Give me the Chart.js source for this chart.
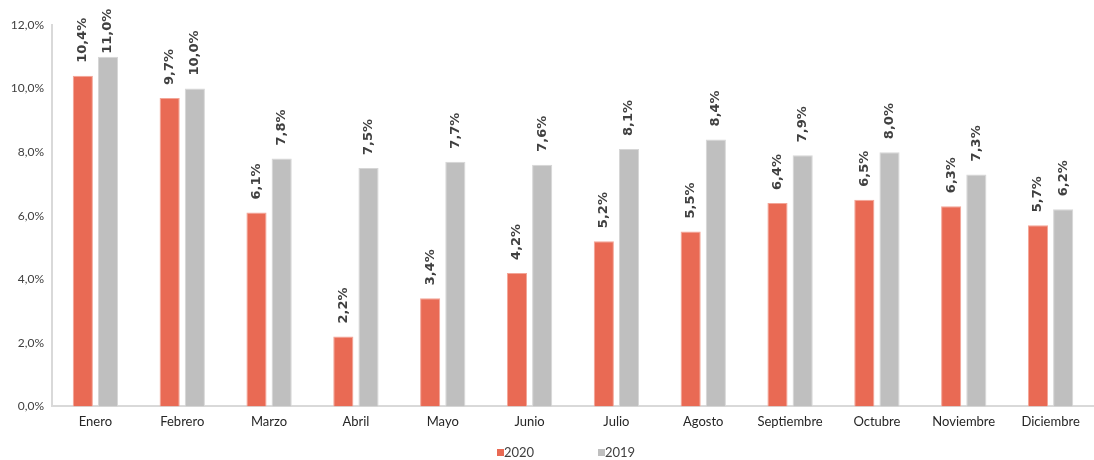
<!DOCTYPE html>
<html>
<head>
<meta charset="utf-8">
<script src="https://cdn.jsdelivr.net/npm/chart.js@4"></script>
<style>
  body { margin: 0; background: #fff; }
  #wrap { width: 1094px; height: 460px; }
</style>
</head>
<body>
<div id="wrap"><canvas id="chart"></canvas></div>
<script>
const months = ['Enero', 'Febrero', 'Marzo', 'Abril', 'Mayo', 'Junio', 'Julio', 'Agosto', 'Septiembre', 'Octubre', 'Noviembre', 'Diciembre'];
const values2020 = [10.4, 9.7, 6.1, 2.2, 3.4, 4.2, 5.2, 5.5, 6.4, 6.5, 6.3, 5.7];
const values2019 = [11.0, 10.0, 7.8, 7.5, 7.7, 7.6, 8.1, 8.4, 7.9, 8.0, 7.3, 6.2];

const fmt = v => v.toFixed(1).replace('.', ',') + '%';

// etiquetas giradas encima de cada barra (sin salirse por arriba)
const barLabels = {
    id: 'barLabels',
    afterDatasetsDraw(chart) {
        const ctx = chart.ctx;
        ctx.save();
        ctx.font = 'bold 13px "DejaVu Sans"';
        ctx.fillStyle = '#404040';
        ctx.textAlign = 'left';
        ctx.textBaseline = 'middle';
        chart.data.datasets.forEach((ds, i) => {
            chart.getDatasetMeta(i).data.forEach((bar, j) => {
                const txt = fmt(ds.data[j]);
                const w = ctx.measureText(txt).width;
                let start = Math.max(bar.y - 13, 12 + w);
                start = Math.min(start, bar.y - 3);
                ctx.save();
                ctx.translate(bar.x, start);
                ctx.rotate(-Math.PI / 2);
                ctx.fillText(txt, 0, 0);
                ctx.restore();
            });
        });
        ctx.restore();
    }
};

// leyenda abajo, cuadrito pegado al texto
const bottomLegend = {
    id: 'bottomLegend',
    afterDraw(chart) {
        const ctx = chart.ctx;
        const y = 453;
        const xs = [497, 598];
        ctx.save();
        ctx.font = '13px Lato';
        ctx.textBaseline = 'middle';
        ctx.textAlign = 'left';
        chart.data.datasets.forEach((ds, i) => {
            ctx.fillStyle = ds.backgroundColor;
            ctx.fillRect(xs[i], y - 4, 7, 7);
            ctx.fillStyle = '#404040';
            ctx.fillText(ds.label, xs[i] + 7, y);
        });
        ctx.restore();
    }
};

const ctx = document.getElementById('chart').getContext('2d');
new Chart(ctx, {
    type: 'bar',
    data: {
        labels: months,
        datasets: [{
            label: '2020',
            data: values2020,
            backgroundColor: '#E96A54',
            borderColor: '#F3A597',
            borderWidth: 1,
            categoryPercentage: 0.58,
            barPercentage: 0.8
        }, {
            label: '2019',
            data: values2019,
            backgroundColor: '#BFBFBF',
            borderColor: '#D6D6D6',
            borderWidth: 1,
            categoryPercentage: 0.58,
            barPercentage: 0.8
        }]
    },
    options: {
        responsive: true,
        maintainAspectRatio: false,
        animation: false,
        layout: { padding: { top: 25, right: 0, bottom: 22 } },
        plugins: {
            legend: { display: false },
            tooltip: { enabled: false }
        },
        scales: {
            x: {
                grid: { display: false, drawTicks: false },
                border: { color: '#D9D9D9', width: 2 },
                ticks: { color: '#262626', font: { family: 'Lato', size: 13 }, padding: 8 }
            },
            y: {
                min: 0,
                max: 12,
                afterFit: s => { s.width = 52; },
                grid: { display: false, drawOnChartArea: false, drawTicks: true, tickLength: 5, color: '#D9D9D9' },
                border: { color: '#D9D9D9', width: 2 },
                ticks: {
                    stepSize: 2,
                    color: '#404040',
                    font: { family: 'Lato', size: 12 },
                    padding: 3,
                    callback: v => fmt(v)
                }
            }
        }
    },
    plugins: [barLabels, bottomLegend]
});
</script>
</body>
</html>
